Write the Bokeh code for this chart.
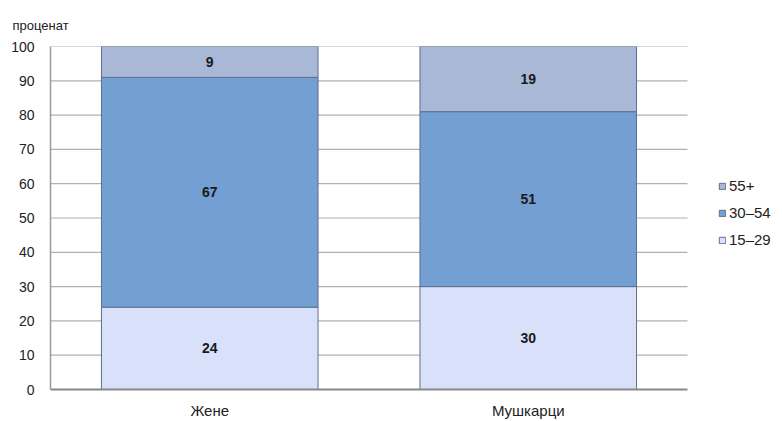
from bokeh.plotting import figure
from bokeh.models import ColumnDataSource, Legend, LegendItem, LabelSet, Range1d, FixedTicker
from bokeh.core.properties import value
from bokeh.embed import file_html
from bokeh.resources import INLINE

categories = ["Жене", "Мушкарци"]
groups = ["15–29", "30–54", "55+"]
v_15_29 = [24, 30]
v_30_54 = [67, 51]
v_55 = [9, 19]
y_ticks = [0, 10, 20, 30, 40, 50, 60, 70, 80, 90, 100]
colors = ["#d9e0f9", "#739fd2", "#aab8d8"]

FONT = "Liberation Sans"

xs = [i + 0.5 for i in range(len(categories))]
n = len(categories)
data = {"x": xs, "15–29": v_15_29, "30–54": v_30_54, "55+": v_55}
src = ColumnDataSource(data)

W, H = 782, 421
LEFT, TOP, BOTTOM = 50, 46, 32
PLOT_RIGHT = 687  # where the bar area ends; legend lives beyond it

frame_w = W - LEFT
p = figure(x_range=Range1d(0, n * frame_w / (PLOT_RIGHT - LEFT)), y_range=Range1d(0, 100),
           width=W, height=H, output_backend="svg", toolbar_location=None,
           min_border_left=LEFT, min_border_top=TOP, min_border_bottom=BOTTOM, min_border_right=0)

# horizontal grid lines limited to the bar area
p.segment(x0=0, x1=n, y0=y_ticks[1:], y1=y_ticks[1:], line_color="#b0b0b0", line_width=1.2)

renderers = p.vbar_stack(groups, x="x", width=0.68, source=src, color=colors,
                         line_color="#5e6f8f", line_width=1)

# value labels at mid-segment
bottoms = [0] * n
lab_x, lab_y, lab_t = [], [], []
for series in [v_15_29, v_30_54, v_55]:
    for i in range(n):
        lab_x.append(xs[i])
        lab_y.append(bottoms[i] + series[i] / 2)
        lab_t.append(str(series[i]))
        bottoms[i] += series[i]
lsrc = ColumnDataSource(dict(x=lab_x, y=lab_y, t=lab_t))
p.add_layout(LabelSet(x="x", y="y", text="t", source=lsrc, text_align="center",
                      text_baseline="middle", text_font=value(FONT), text_font_size=value("14px"),
                      text_font_style=value("bold"), text_color=value("#1a1a1a")))

legend = Legend(items=[LegendItem(label=g, renderers=[renderers[i]]) for i, g in reversed(list(enumerate(groups)))],
                location=(668, 140), orientation="vertical", border_line_color=None,
                background_fill_alpha=0, label_text_font=FONT, label_text_font_size="15px",
                label_text_color="#222222", glyph_width=8, glyph_height=8, spacing=8,
                padding=0, margin=0, label_standoff=3, label_height=19)
p.add_layout(legend, "center")

p.outline_line_color = None
p.xgrid.grid_line_color = None
p.ygrid.grid_line_color = None
p.yaxis.ticker = FixedTicker(ticks=y_ticks)
p.yaxis.minor_tick_line_color = None
p.yaxis.major_tick_line_color = None
p.yaxis.axis_line_color = "#9a9a9a"
p.yaxis.axis_line_width = 1.5
p.yaxis.major_label_text_font = FONT
p.yaxis.major_label_text_font_size = "14px"
p.yaxis.major_label_text_color = "#222222"
p.yaxis.major_label_standoff = 10

p.xaxis.ticker = FixedTicker(ticks=xs)
p.xaxis.major_label_overrides = {x: c for x, c in zip(xs, categories)}
p.xaxis.bounds = (0, n)
p.xaxis.major_tick_line_color = None
p.xaxis.minor_tick_line_color = None
p.xaxis.axis_line_color = "#888888"
p.xaxis.axis_line_width = 2
p.xaxis.major_label_text_font = FONT
p.xaxis.major_label_text_font_size = "15px"
p.xaxis.major_label_text_color = "#222222"
p.xaxis.major_label_standoff = 6

p.title.text = "проценат"
p.title.text_font = FONT
p.title.text_font_size = "13px"
p.title.text_font_style = "normal"
p.title.text_color = "#222222"
p.title.text_line_height = 0.8
p.title.offset = -38
p.title.standoff = 28

open("out.html", "w").write(file_html(p, INLINE))
